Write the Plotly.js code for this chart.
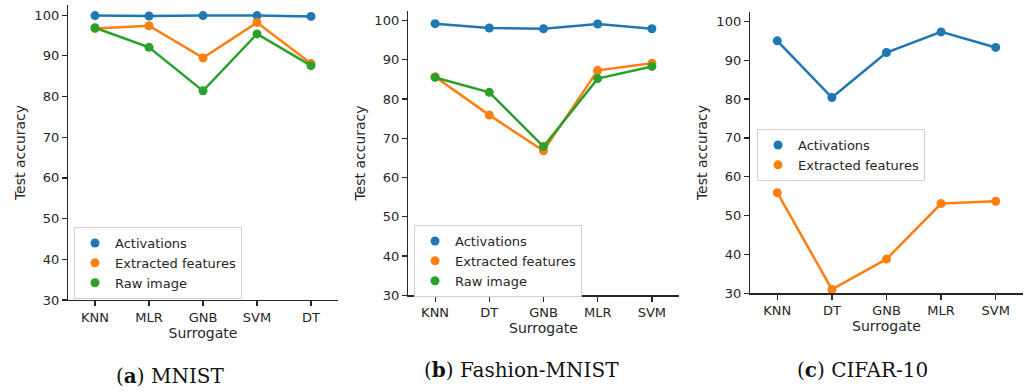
<!DOCTYPE html>
<html>
<head>
<meta charset="utf-8">
<script src="https://cdn.plot.ly/plotly-3.0.1.min.js"></script>
<style>html,body{margin:0;padding:0;background:#fff;}#chart{width:1026px;height:392px;}</style>
</head>
<body>
<div id="chart"></div>
<script>
// Categories (surrogate models) per panel
const catsMNIST = ['KNN', 'MLR', 'GNB', 'SVM', 'DT'];
const catsFashion = ['KNN', 'DT', 'GNB', 'MLR', 'SVM'];
const catsCIFAR = ['KNN', 'DT', 'GNB', 'MLR', 'SVM'];

// (a) MNIST
const mnistActivations = [99.9, 99.8, 99.9, 99.9, 99.7];
const mnistExtracted = [96.7, 97.4, 89.5, 98.2, 88.1];
const mnistRaw = [96.9, 92.1, 81.4, 95.4, 87.6];

// (b) Fashion-MNIST
const fashionActivations = [99.2, 98.1, 97.9, 99.1, 97.9];
const fashionExtracted = [85.7, 75.9, 66.8, 87.3, 89.1];
const fashionRaw = [85.5, 81.7, 67.9, 85.2, 88.3];

// (c) CIFAR-10
const cifarActivations = [95.0, 80.4, 92.0, 97.3, 93.3];
const cifarExtracted = [55.9, 31.0, 38.8, 53.1, 53.7];

const seriesNames = ['Activations', 'Extracted features', 'Raw image'];
const captions = ['(<b>a</b>) MNIST', '(<b>b</b>) Fashion-MNIST', '(<b>c</b>) CIFAR-10'];
const xTitle = 'Surrogate';
const yTitle = 'Test accuracy';
const yTicks = [30, 40, 50, 60, 70, 80, 90, 100];

const colors = ['#1f77b4', '#ff7f0e', '#2ca02c'];
const W = 1026, H = 392;
const txt = '#262626';
const font = 'DejaVu Sans, sans-serif';

const panels = [
  {cats: catsMNIST, series: [mnistActivations, mnistExtracted, mnistRaw], xa: 'x', ya: 'y', legend: 'legend'},
  {cats: catsFashion, series: [fashionActivations, fashionExtracted, fashionRaw], xa: 'x2', ya: 'y2', legend: 'legend2'},
  {cats: catsCIFAR, series: [cifarActivations, cifarExtracted], xa: 'x3', ya: 'y3', legend: 'legend3'}
];

const traces = [];
panels.forEach(p => {
  p.series.forEach((vals, i) => {
    traces.push({
      type: 'scatter', mode: 'lines', x: p.cats, y: vals,
      xaxis: p.xa, yaxis: p.ya, showlegend: false, hoverinfo: 'skip',
      line: {color: colors[i], width: 2.5}
    });
    traces.push({
      type: 'scatter', mode: 'markers', x: p.cats, y: vals, name: seriesNames[i],
      xaxis: p.xa, yaxis: p.ya, legend: p.legend,
      marker: {color: colors[i], size: 9}
    });
  });
});

// pixel geometry -> paper domains
function xd(a, b) { return [a / W, b / W]; }
function yd(top, bottom) { return [1 - bottom / H, 1 - top / H]; }

function xaxis(dom, anchor) {
  return {
    domain: dom, anchor: anchor, type: 'category', range: [-0.5, 4.5],
    showline: true, linecolor: txt, linewidth: 1.2, mirror: false,
    ticks: 'outside', ticklen: 5, tickwidth: 1.2, tickcolor: txt,
    showgrid: false, zeroline: false,
    tickfont: {family: font, size: 13, color: txt},
    title: {text: xTitle, font: {family: font, size: 14, color: txt}, standoff: 4},
    automargin: false, fixedrange: true
  };
}
function yaxis(dom, anchor) {
  return {
    domain: dom, anchor: anchor, range: [30, 102.5],
    tickvals: yTicks,
    showline: true, linecolor: txt, linewidth: 1.2,
    ticks: 'outside', ticklen: 5, tickwidth: 1.2, tickcolor: txt,
    showgrid: false, zeroline: false,
    tickfont: {family: font, size: 13, color: txt},
    title: {text: yTitle, font: {family: font, size: 14, color: txt}, standoff: 5},
    automargin: false, fixedrange: true
  };
}
function legend(x, y) {
  return {
    x: x / W, y: 1 - y / H, xanchor: 'left', yanchor: 'top',
    bgcolor: '#ffffff', bordercolor: '#d0d0d0', borderwidth: 1,
    font: {family: font, size: 13, color: txt},
    itemwidth: 30, tracegroupgap: 0
  };
}

const layout = {
  width: W, height: H,
  margin: {l: 0, r: 0, t: 0, b: 0},
  paper_bgcolor: '#ffffff', plot_bgcolor: '#ffffff',
  showlegend: true,
  xaxis: xaxis(xd(68, 338), 'y'),
  yaxis: yaxis(yd(5, 300), 'x'),
  xaxis2: xaxis(xd(408, 679), 'y2'),
  yaxis2: yaxis(yd(10.7, 295.3), 'x2'),
  xaxis3: xaxis(xd(750, 1023), 'y3'),
  yaxis3: yaxis(yd(11.7, 293.3), 'x3'),
  legend: legend(74, 227),
  legend2: legend(414, 225),
  legend3: legend(757, 129),
  annotations: [
    {text: captions[0], x: 170 / W, y: 1 - 376 / H},
    {text: captions[1], x: 521 / W, y: 1 - 370 / H},
    {text: captions[2], x: 862 / W, y: 1 - 370 / H}
  ].map(a => Object.assign(a, {
    xref: 'paper', yref: 'paper', xanchor: 'center', yanchor: 'middle', showarrow: false,
    font: {family: 'DejaVu Serif, serif', size: 20, color: '#111111'}
  }))
};

Plotly.newPlot('chart', traces, layout, {displayModeBar: false, staticPlot: true});
</script>
</body>
</html>
